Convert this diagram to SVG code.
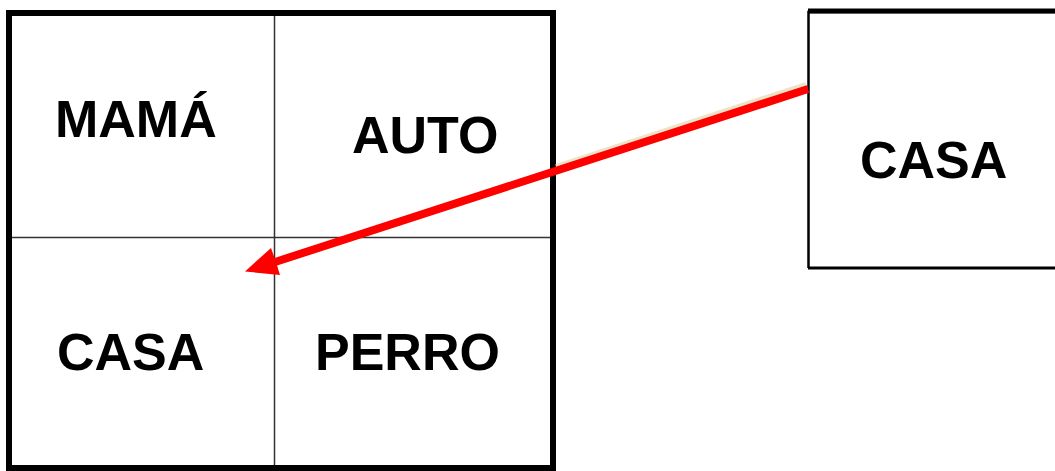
<svg xmlns="http://www.w3.org/2000/svg" width="1055" height="471" viewBox="0 0 1055 471">
<style>
.t{font-family:"Liberation Sans",Arial,sans-serif;font-weight:bold;font-size:52px;fill:#000}
.thin{stroke:#333;stroke-width:1.5;fill:none}
</style>
<rect width="1055" height="471" fill="#fff"/>
<g id="grid">
<rect x="9" y="13" width="544" height="455" fill="#fff" stroke="#000" stroke-width="6"/>
<line class="thin" x1="274.5" y1="16" x2="274.5" y2="465"/>
<line class="thin" x1="12" y1="237.5" x2="550" y2="237.5"/>
</g>
<g id="cell-mama"><text class="t" x="55" y="137">MAMÁ</text></g>
<g id="cell-auto"><text class="t" x="352" y="153">AUTO</text></g>
<g id="cell-casa"><text class="t" x="57" y="370">CASA</text></g>
<g id="cell-perro"><text class="t" x="315" y="370">PERRO</text></g>
<g id="casa-box">
<path d="M1056,12 H808.5 V268" fill="none" stroke="#000" stroke-width="2.5"/>
<line x1="808" y1="11" x2="1056" y2="11" stroke="#000" stroke-width="5"/>
<line x1="808" y1="268" x2="1056" y2="268" stroke="#000" stroke-width="3"/>
<text class="t" x="860" y="178">CASA</text>
</g>
<g id="connectors">
<line x1="806" y1="85" x2="556" y2="167" stroke="#e8d6b0" stroke-width="6" opacity="0.7"/>
<line x1="808" y1="89" x2="272" y2="263" stroke="#ff0000" stroke-width="8"/>
<path d="M245,271.5 L271,248 L276,262 L280,275 Z" fill="#ff0000"/>
</g>
</svg>
